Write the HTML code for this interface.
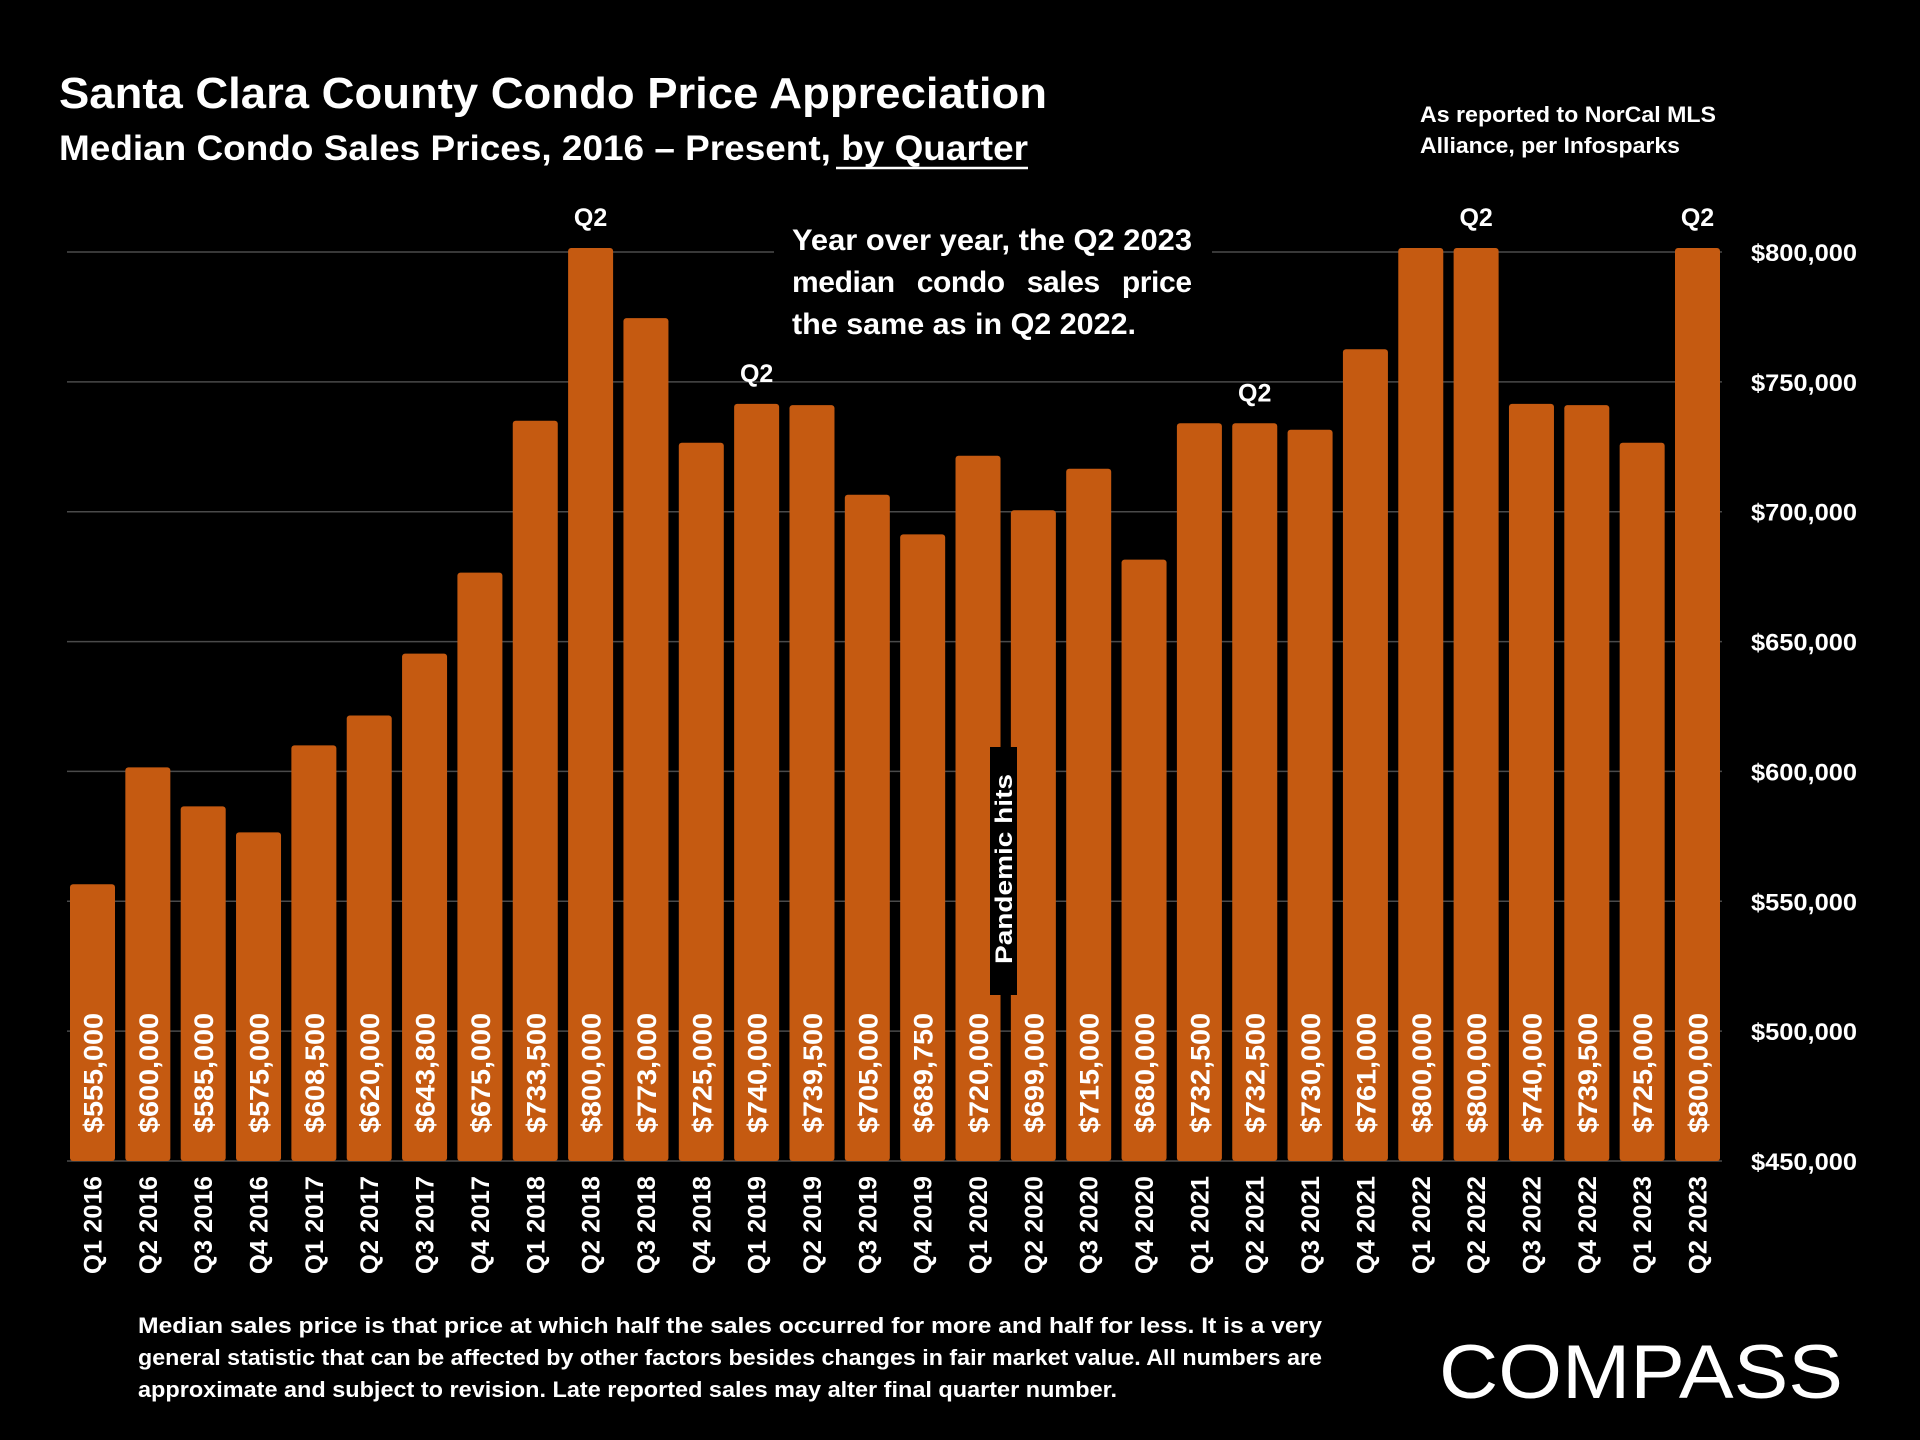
<!DOCTYPE html>
<html><head><meta charset="utf-8"><style>
html,body{margin:0;padding:0;background:#000;}
svg{display:block;font-family:"Liberation Sans",sans-serif;font-weight:bold;}
</style></head><body>
<svg id="chart" width="1920" height="1440" viewBox="0 0 1920 1440" xmlns="http://www.w3.org/2000/svg">
<rect x="0" y="0" width="1920" height="1440" fill="#000"/>
<text x="59" y="108" fill="#fff" font-size="44" textLength="988" lengthAdjust="spacingAndGlyphs">Santa Clara County Condo Price Appreciation</text>
<text x="59" y="160" fill="#fff" font-size="35" textLength="969" lengthAdjust="spacingAndGlyphs">Median Condo Sales Prices, 2016 – Present, by Quarter</text>
<line x1="836" y1="168" x2="1028" y2="168" stroke="#fff" stroke-width="2.5"/>
<text x="1420" y="122" fill="#fff" font-size="22" textLength="296" lengthAdjust="spacingAndGlyphs">As reported to NorCal MLS</text>
<text x="1420" y="153" fill="#fff" font-size="22" textLength="260" lengthAdjust="spacingAndGlyphs">Alliance, per Infosparks</text>
<g id="grid"></g>
<g id="bars"></g>
<g id="labels"></g>
<rect x="774" y="240" width="438" height="24" fill="#000"/>
<g fill="#fff" font-size="30">
<text x="792" y="250" textLength="400" lengthAdjust="spacingAndGlyphs">Year over year, the Q2 2023</text>
<text x="792" y="292" textLength="400" lengthAdjust="spacing" word-spacing="14">median condo sales price</text>
<text x="792" y="334" textLength="344" lengthAdjust="spacingAndGlyphs">the same as in Q2 2022.</text>
</g>
<rect x="990" y="747" width="27" height="248" fill="#000"/>
<text transform="translate(1012,869) rotate(-90)" text-anchor="middle" fill="#fff" font-size="24" textLength="190" lengthAdjust="spacingAndGlyphs">Pandemic hits</text>
<g fill="#fff" font-size="22">
<text x="138" y="1333" textLength="1184" lengthAdjust="spacingAndGlyphs">Median sales price is that price at which half the sales occurred for more and half for less. It is a very</text>
<text x="138" y="1365" textLength="1184" lengthAdjust="spacingAndGlyphs">general statistic that can be affected by other factors besides changes in fair market value. All numbers are</text>
<text x="138" y="1397" textLength="979" lengthAdjust="spacingAndGlyphs">approximate and subject to revision. Late reported sales may alter final quarter number.</text>
</g>
<text x="1439" y="1398" fill="#fff" font-size="76" font-weight="normal" textLength="404" lengthAdjust="spacingAndGlyphs">COMPASS</text>
</svg>
<script>
const categories = ["Q1 2016","Q2 2016","Q3 2016","Q4 2016","Q1 2017","Q2 2017","Q3 2017","Q4 2017","Q1 2018","Q2 2018","Q3 2018","Q4 2018","Q1 2019","Q2 2019","Q3 2019","Q4 2019","Q1 2020","Q2 2020","Q3 2020","Q4 2020","Q1 2021","Q2 2021","Q3 2021","Q4 2021","Q1 2022","Q2 2022","Q3 2022","Q4 2022","Q1 2023","Q2 2023"];
const values = [555000,600000,585000,575000,608500,620000,643800,675000,733500,800000,773000,725000,740000,739500,705000,689750,720000,699000,715000,680000,732500,732500,730000,761000,800000,800000,740000,739500,725000,800000];
const yTicks = [450000,500000,550000,600000,650000,700000,750000,800000];
const q2Marked = ["Q2 2018","Q1 2019","Q2 2021","Q2 2022","Q2 2023"];

const NS = "http://www.w3.org/2000/svg";
const yMin = 450000, yMax = 800000, yBase = 1161, yTop = 252;
function yScale(v){ return yBase - (v - yMin) / (yMax - yMin) * (yBase - yTop); }
const x0 = 70, xLast = 1675, barW = 45;
function xScale(i){ return x0 + i * (xLast - x0) / (categories.length - 1); }
function fmt(v){ return "$" + v.toLocaleString("en-US"); }
function mk(tag, attrs, parent){ const e = document.createElementNS(NS, tag); for (const k in attrs) e.setAttribute(k, attrs[k]); parent.appendChild(e); return e; }

const grid = document.getElementById("grid");
const bars = document.getElementById("bars");
const labels = document.getElementById("labels");

yTicks.forEach(t => {
  const y = yScale(t);
  const ln = mk("line", {x1: 67, x2: 1722, y1: y, y2: y, stroke: "#4a4a4a", "stroke-width": 1.5}, grid);
  
  
  const tx = mk("text", {x: 1751, y: y + 9, fill: "#fff", "font-size": 24, textLength: 106, lengthAdjust: "spacingAndGlyphs"}, grid);
  
  
  tx.textContent = fmt(t);
});

categories.forEach((c, i) => {
  const x = xScale(i), yv = yScale(values[i]);
  const r = mk("rect", {x: x, y: yv - 4, width: barW, height: yBase - yv + 4, rx: 3, fill: "#C55A11"}, bars);
  
  
  const cx = x + barW / 2;
  const vl = mk("text", {transform: `translate(${cx + 10},1133) rotate(-90)`, fill: "#fff", "font-size": 27, textLength: 120, lengthAdjust: "spacingAndGlyphs"}, labels);
  
  
  vl.textContent = fmt(values[i]);
  const xl = mk("text", {transform: `translate(${cx + 9},1176) rotate(-90)`, "text-anchor": "end", fill: "#fff", "font-size": 25, textLength: 98, lengthAdjust: "spacingAndGlyphs"}, labels);
  
  
  xl.textContent = c;
  if (q2Marked.includes(c)) {
    const q = mk("text", {x: cx, y: yv - 26, "text-anchor": "middle", fill: "#fff", "font-size": 25}, labels);
    
    
    q.textContent = "Q2";
  }
});
</script>
</body></html>
